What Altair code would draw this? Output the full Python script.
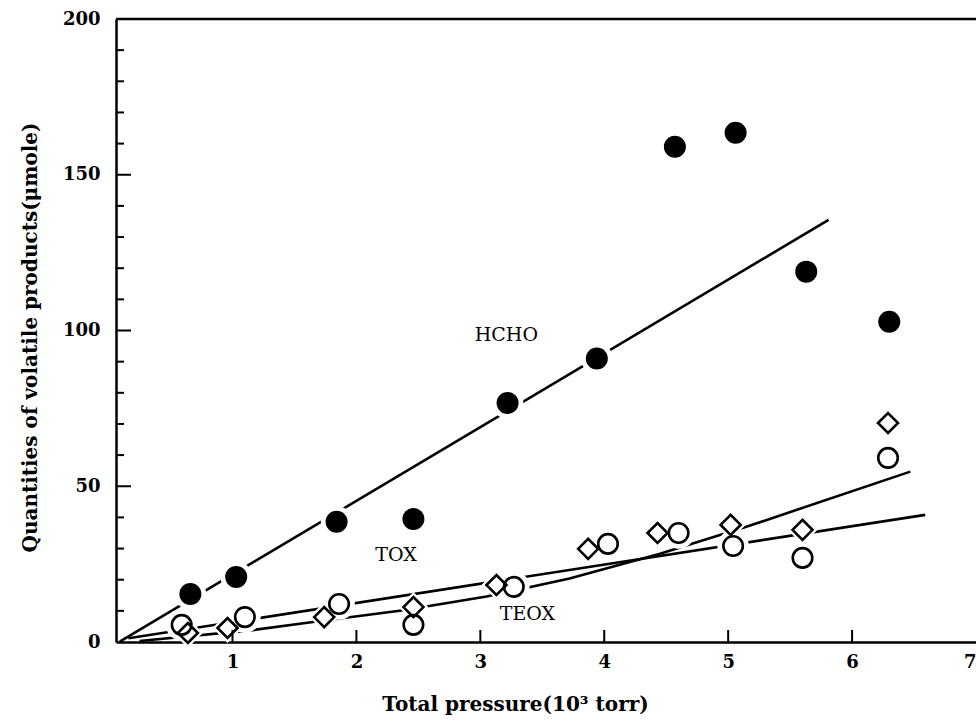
import altair as alt
import pandas as pd

# ---- data ----
hcho_x = [0.66, 1.03, 1.84, 2.46, 3.22, 3.94, 4.57, 5.06, 5.63, 6.30]
hcho_y = [15.4, 20.9, 38.6, 39.5, 76.7, 91.0, 159.0, 163.5, 118.9, 102.8]
tox_x = [0.59, 1.10, 1.86, 2.46, 3.27, 4.03, 4.60, 5.04, 5.60, 6.29]
tox_y = [5.5, 8.0, 12.2, 5.5, 17.7, 31.5, 35.0, 30.8, 27.0, 59.1]
teox_x = [0.64, 0.96, 1.74, 2.46, 3.13, 3.87, 4.43, 5.02, 5.60, 6.29]
teox_y = [2.9, 4.5, 8.0, 11.2, 18.3, 29.9, 35.0, 37.6, 36.0, 70.3]

hcho_line_x = [0.09, 5.81]
hcho_line_y = [0.1, 135.5]
tox_line_x = [0.16, 6.59]
tox_line_y = [1.2, 40.8]
teox_line_x = [0.25, 1.16, 1.68, 2.38, 3.05, 3.72, 4.45, 5.14, 6.47]
teox_line_y = [0.3, 3.8, 6.6, 10.2, 14.6, 20.4, 28.3, 36.9, 54.7]

label_text = ["HCHO", "TOX", "TEOX"]
label_x = [3.21, 2.32, 3.38]
label_y = [98.6, 27.9, 9.0]

x_ticks = [1, 2, 3, 4, 5, 6, 7]
y_major = [0, 50, 100, 150, 200]
y_minor = [v for v in range(10, 200, 10) if v % 50 != 0]

X_DOMAIN = [0.06, 7.0]
Y_DOMAIN = [0, 200]
W, H = 860, 623
FONT = "DejaVu Serif"

# ---- tables ----
pts = pd.DataFrame(
    [{"x": a, "y": b, "s": "HCHO"} for a, b in zip(hcho_x, hcho_y)]
    + [{"x": a, "y": b, "s": "TOX"} for a, b in zip(tox_x, tox_y)]
    + [{"x": a, "y": b, "s": "TEOX"} for a, b in zip(teox_x, teox_y)]
)
lines = pd.DataFrame(
    [{"x": a, "y": b, "s": "HCHO", "o": i} for i, (a, b) in enumerate(zip(hcho_line_x, hcho_line_y))]
    + [{"x": a, "y": b, "s": "TOX", "o": i} for i, (a, b) in enumerate(zip(tox_line_x, tox_line_y))]
    + [{"x": a, "y": b, "s": "TEOX", "o": i} for i, (a, b) in enumerate(zip(teox_line_x, teox_line_y))]
)
labels = pd.DataFrame({"t": label_text, "x": label_x, "y": label_y})
xt = pd.DataFrame({"v": x_ticks[:-1]})
ymaj = pd.DataFrame({"v": y_major[1:-1]})
ymin = pd.DataFrame({"v": y_minor})

xs = alt.Scale(domain=X_DOMAIN, nice=False, zero=False)
ys = alt.Scale(domain=Y_DOMAIN, nice=False)
xaxis = alt.Axis(values=x_ticks, format="d", title="Total pressure(10³ torr)",
                 grid=False, ticks=False, tickSize=0, labelPadding=11, labelFlush=True,
                 domainColor="black", domainWidth=2.5,
                 labelFont=FONT, labelFontSize=18, labelFontWeight="bold", labelColor="black",
                 titleFont=FONT, titleFontSize=20, titleFontWeight="bold", titleColor="black",
                 titleX=399, titleY=62, titleBaseline="middle", titleAnchor="middle")
yaxis = alt.Axis(values=y_major, format="d", title="Quantities of volatile products(μmole)",
                 grid=False, ticks=False, tickSize=0, labelPadding=16,
                 domainColor="black", domainWidth=2.5,
                 labelFont=FONT, labelFontSize=18, labelFontWeight="bold", labelColor="black",
                 titleFont=FONT, titleFontSize=20, titleFontWeight="bold", titleColor="black",
                 titleX=-86, titleY=318, titleBaseline="middle", titleAnchor="middle", titleAngle=270)


def X(f="x"):
    return alt.X(f, type="quantitative", scale=xs, axis=xaxis)


def Y(f="y"):
    return alt.Y(f, type="quantitative", scale=ys, axis=yaxis)


top_line = alt.Chart(pd.DataFrame({"a": [0]})).mark_rule(color="black", strokeWidth=2.5).encode(
    x=alt.value(0), x2=alt.value(W), y=alt.value(0))

ytick_major = alt.Chart(ymaj).mark_rule(color="black", strokeWidth=2).encode(
    y=Y("v"), x=alt.value(0), x2=alt.value(15))
ytick_minor = alt.Chart(ymin).mark_rule(color="black", strokeWidth=2).encode(
    y=Y("v"), x=alt.value(0), x2=alt.value(8))
xtick = alt.Chart(xt).mark_rule(color="black", strokeWidth=2).encode(
    x=X("v"), y=alt.value(H), y2=alt.value(H - 12))

line_layer = alt.Chart(lines).mark_line(color="black", strokeWidth=2.6).encode(
    x=X(), y=Y(), detail="s:N", order="o:Q")

halo_circ = alt.Chart(pts).transform_filter(alt.datum.s != "TEOX").mark_point(
    shape="circle", filled=True, color="white", opacity=1, size=1000).encode(x=X(), y=Y())
halo_dia = alt.Chart(pts).transform_filter(alt.datum.s == "TEOX").mark_point(
    shape="diamond", filled=True, color="white", opacity=1, size=900).encode(x=X(), y=Y())

filled = alt.Chart(pts).transform_filter(alt.datum.s == "HCHO").mark_point(
    shape="circle", filled=True, color="black", opacity=1, size=484).encode(x=X(), y=Y())
opencirc = alt.Chart(pts).transform_filter(alt.datum.s == "TOX").mark_point(
    shape="circle", filled=False, color="black", opacity=1, strokeWidth=2.6, size=380).encode(x=X(), y=Y())
diamonds = alt.Chart(pts).transform_filter(alt.datum.s == "TEOX").mark_point(
    shape="diamond", filled=False, color="black", opacity=1, strokeWidth=2.6, size=400).encode(x=X(), y=Y())

text_layer = alt.Chart(labels).mark_text(font=FONT, fontSize=19, color="black",
                                          align="center", baseline="middle").encode(
    x=X(), y=Y(), text="t:N")

chart = alt.layer(
    line_layer, halo_circ, halo_dia, filled, opencirc, diamonds, text_layer,
    top_line, ytick_major, ytick_minor, xtick,
).properties(
    width=W, height=H,
    autosize=alt.AutoSizeParams(type="none"),
    padding={"left": 116, "top": 19, "right": 0, "bottom": 80},
    background="white",
).configure_view(stroke=None)

chart.save("out.html", embed_options={"renderer": "svg", "actions": False})
